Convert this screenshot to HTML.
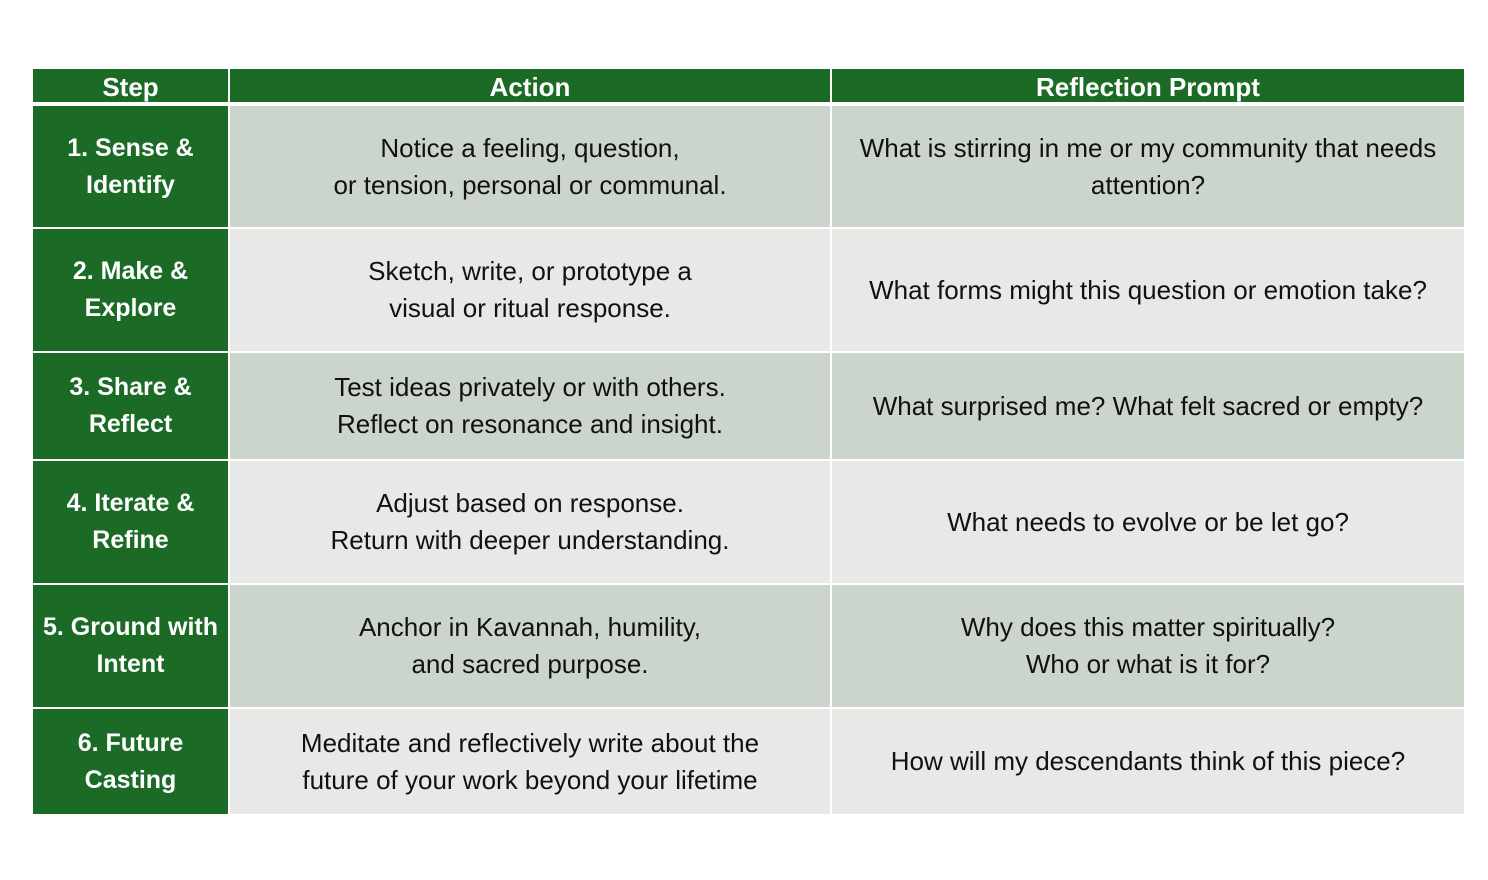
<!DOCTYPE html>
<html><head><style>
body{margin:0;width:1488px;height:880px;background:#fff;position:relative;font-family:"Liberation Sans",sans-serif;overflow:hidden}
.c{position:absolute;display:flex;align-items:center;justify-content:center;text-align:center;font-size:26px;line-height:37px;color:#111}
.g{background:#1b6b27;color:#fff;font-weight:bold;font-size:25px}
.h{font-size:26px}
.a{background:#cbd5cc}
.b{background:#e8e9e6}
</style></head><body>
<div class="c g h" style="left:33px;top:69px;width:195px;height:33px;line-height:33px;padding-top:4px;box-sizing:border-box">Step</div>
<div class="c g h" style="left:230px;top:69px;width:600px;height:33px;padding-top:4px;box-sizing:border-box">Action</div>
<div class="c g h" style="left:832px;top:69px;width:632px;height:33px;padding-top:4px;box-sizing:border-box">Reflection Prompt</div>

<div class="c g" style="left:33px;top:106px;width:195px;height:121px">1. Sense &amp;<br>Identify</div>
<div class="c a" style="left:230px;top:106px;width:600px;height:121px">Notice a feeling, question,<br>or tension, personal or communal.</div>
<div class="c a" style="left:832px;top:106px;width:632px;height:121px">What is stirring in me or my community that needs<br>attention?</div>

<div class="c g" style="left:33px;top:229px;width:195px;height:122px">2. Make &amp;<br>Explore</div>
<div class="c b" style="left:230px;top:229px;width:600px;height:122px">Sketch, write, or prototype a<br>visual or ritual response.</div>
<div class="c b" style="left:832px;top:229px;width:632px;height:122px">What forms might this question or emotion take?</div>

<div class="c g" style="left:33px;top:353px;width:195px;height:106px">3. Share &amp;<br>Reflect</div>
<div class="c a" style="left:230px;top:353px;width:600px;height:106px">Test ideas privately or with others.<br>Reflect on resonance and insight.</div>
<div class="c a" style="left:832px;top:353px;width:632px;height:106px">What surprised me? What felt sacred or empty?</div>

<div class="c g" style="left:33px;top:461px;width:195px;height:122px">4. Iterate &amp;<br>Refine</div>
<div class="c b" style="left:230px;top:461px;width:600px;height:122px">Adjust based on response.<br>Return with deeper understanding.</div>
<div class="c b" style="left:832px;top:461px;width:632px;height:122px">What needs to evolve or be let go?</div>

<div class="c g" style="left:33px;top:585px;width:195px;height:122px;white-space:nowrap">5. Ground with<br>Intent</div>
<div class="c a" style="left:230px;top:585px;width:600px;height:122px">Anchor in Kavannah, humility,<br>and sacred purpose.</div>
<div class="c a" style="left:832px;top:585px;width:632px;height:122px">Why does this matter spiritually?<br>Who or what is it for?</div>

<div class="c g" style="left:33px;top:709px;width:195px;height:105px">6. Future<br>Casting</div>
<div class="c b" style="left:230px;top:709px;width:600px;height:105px">Meditate and reflectively write about the<br>future of your work beyond your lifetime</div>
<div class="c b" style="left:832px;top:709px;width:632px;height:105px">How will my descendants think of this piece?</div>
</body></html>
